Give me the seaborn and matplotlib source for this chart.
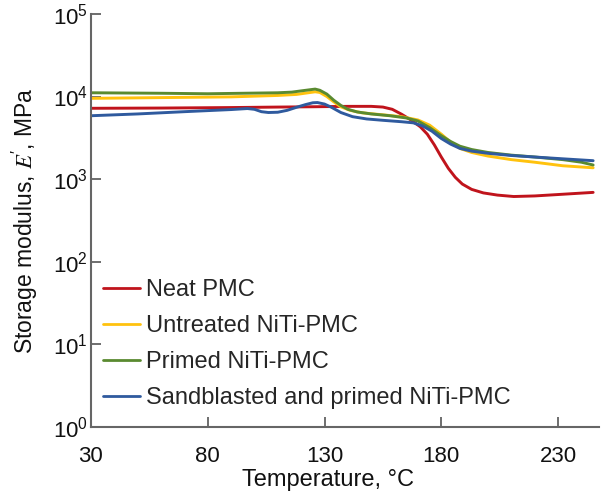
import matplotlib
matplotlib.use("Agg")
import matplotlib.pyplot as plt
import seaborn as sns
import pandas as pd

# values (temperature in C, modulus in MPa)
neat_T = [30, 60, 90, 110, 126, 140, 150, 155, 159, 163, 167, 171, 174, 177, 180, 183, 186, 189, 193, 198, 204, 211, 220, 230, 245]
neat_E = [7200, 7250, 7350, 7450, 7520, 7600, 7600, 7450, 7000, 6100, 5200, 4300, 3500, 2600, 1850, 1350, 1050, 870, 750, 680, 640, 615, 625, 650, 690]

untreated_T = [30, 60, 90, 110, 118, 124, 126, 128, 131, 134, 137, 141, 146, 155, 163, 170, 175, 180, 184, 188, 193, 200, 210, 220, 232, 245]
untreated_E = [9500, 9700, 9900, 10300, 10600, 11200, 11400, 11200, 10000, 8600, 7500, 6800, 6350, 6000, 5700, 5200, 4500, 3500, 2800, 2350, 2100, 1900, 1720, 1600, 1450, 1370]

primed_T = [30, 60, 80, 100, 110, 116, 120, 124, 126, 128, 131, 134, 137, 140, 144, 150, 158, 165, 170, 175, 180, 184, 188, 193, 200, 210, 220, 232, 240, 245]
primed_E = [11100, 10950, 10800, 11000, 11100, 11300, 11700, 12100, 12300, 11900, 10700, 9000, 7800, 7000, 6500, 6150, 5850, 5500, 5050, 4200, 3350, 2850, 2500, 2280, 2100, 1950, 1850, 1720, 1600, 1480]

sand_T = [30, 50, 70, 90, 97, 100, 103, 106, 110, 114, 118, 122, 125, 127, 130, 133, 137, 142, 148, 155, 163, 168, 172, 176, 180, 184, 188, 193, 200, 210, 220, 232, 245]
sand_E = [5850, 6150, 6550, 6950, 7150, 7000, 6550, 6400, 6450, 6800, 7400, 8000, 8400, 8450, 8100, 7400, 6400, 5700, 5350, 5150, 4950, 4800, 4400, 3800, 3100, 2650, 2350, 2180, 2050, 1930, 1850, 1760, 1670]

labels = ["Neat PMC", "Untreated NiTi-PMC", "Primed NiTi-PMC", "Sandblasted and primed NiTi-PMC"]
colors = ["#C0141C", "#FFC20E", "#5A8A30", "#2F5A9E"]
x_ticks = [30, 80, 130, 180, 230]
y_ticks = [1e0, 1e1, 1e2, 1e3, 1e4, 1e5]

frames = []
for lab, T, E in zip(labels, [neat_T, untreated_T, primed_T, sand_T],
                     [neat_E, untreated_E, primed_E, sand_E]):
    frames.append(pd.DataFrame({"T": T, "E": E, "sample": lab}))
df = pd.concat(frames, ignore_index=True)

sns.set_theme(style="ticks")
plt.rcParams["font.family"] = ["Liberation Sans", "DejaVu Sans"]
plt.rcParams["mathtext.fontset"] = "stix"
plt.rcParams["mathtext.default"] = "regular"

fig = plt.figure(figsize=(6.02, 4.98), dpi=100)
ax = fig.add_axes([0.151, 0.143, 0.844, 0.829])

sns.lineplot(data=df, x="T", y="E", hue="sample", hue_order=labels,
             palette=colors, linewidth=2.1, sort=False, ax=ax)

ax.set_yscale("log")
ax.set_ylim(1, 1e5)
ax.set_xlim(30, 247.5)
ax.set_xticks(x_ticks)
ax.set_yticks(y_ticks)
ax.minorticks_off()
ax.tick_params(direction="in", length=7, width=1.2, color="#555555",
               labelsize=16, labelcolor="#111111")
ax.tick_params(axis="x", pad=14)
ax.tick_params(axis="y", pad=2)

for s in ["top", "right"]:
    ax.spines[s].set_visible(False)
for s in ["left", "bottom"]:
    ax.spines[s].set_color("#666666")
    ax.spines[s].set_linewidth(1.5)

ax.set_xlabel("Temperature, °C", fontsize=17, color="#111111")
ax.set_ylabel(r"Storage modulus, $\mathit{E}'$, MPa", fontsize=16.5,
              color="#111111")
ax.xaxis.set_label_coords(0.466, -0.102)
ax.yaxis.set_label_coords(-0.1, 0.5)

leg = ax.legend(loc="center left", bbox_to_anchor=(0.024, 0.2), frameon=False,
                fontsize=17, handlelength=1.57, handletextpad=0.25,
                labelspacing=0.59, borderpad=0, borderaxespad=0)
for line in leg.get_lines():
    line.set_linewidth(2.0)

fig.savefig("out.png", dpi=100)
